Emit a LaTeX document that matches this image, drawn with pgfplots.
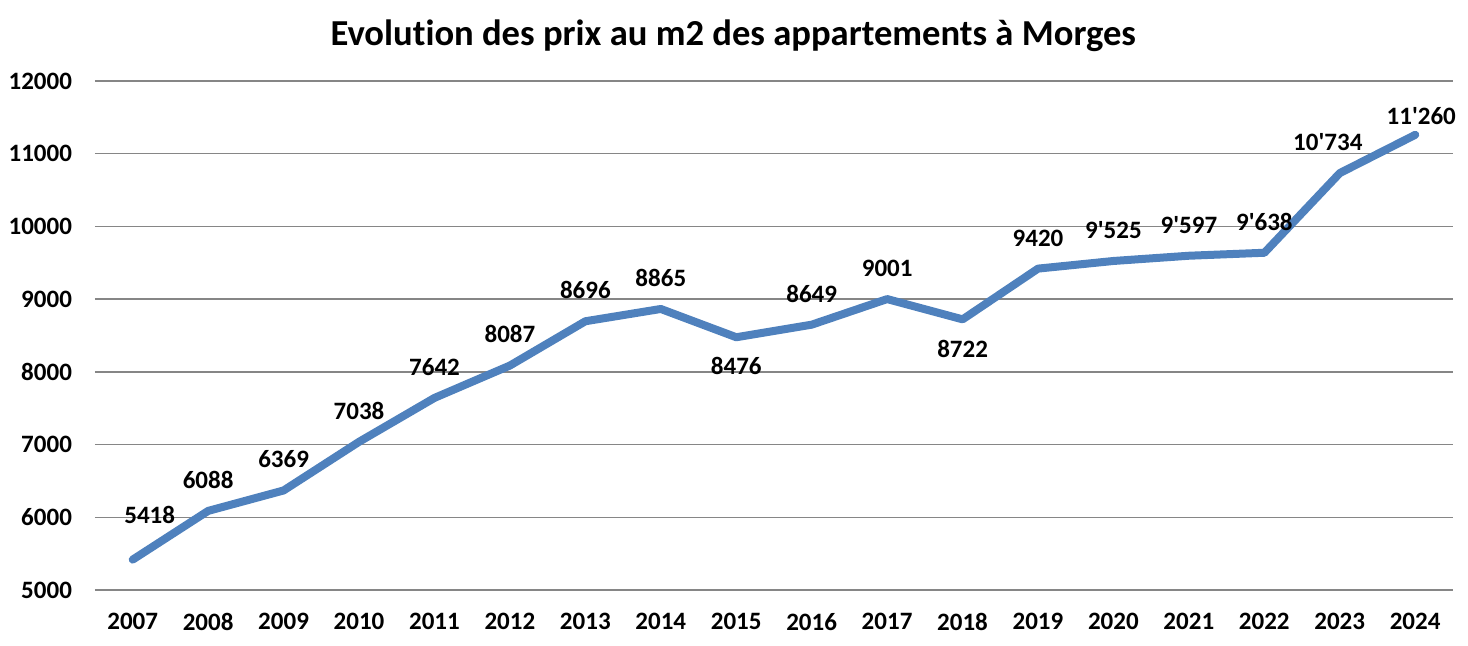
\documentclass[border=0pt]{standalone}
\usepackage{fontspec}
\setmainfont{Carlito}[Ligatures=NoCommon]
\usepackage{pgfplots}
\pgfplotsset{compat=1.18}

\definecolor{lineblue}{RGB}{79,129,189}
\definecolor{gridgray}{RGB}{134,134,134}

\newcommand{\q}{\textquotesingle}

\begin{document}
\begin{tikzpicture}[labelfont/.style={font=\fontsize{12.5}{14}\selectfont\bfseries}]
\begin{axis}[
    scale only axis,
    width=679pt, height=254.5pt,
    xmin=2006.5, xmax=2024.5,
    ymin=5000, ymax=12000,
    xtick={2007,...,2024},
    ytick={5000,6000,...,12000},
    scaled y ticks=false,
    /pgf/number format/1000 sep={},
    /pgf/number format/assume math mode=true,
    axis line style={draw=none},
    major tick length=0pt,
    ymajorgrids,
    grid style={gridgray, line width=0.75pt},
    ticklabel style={font=\fontsize{12.5}{14}\selectfont\bfseries},
    xticklabel style={yshift=-8pt},
    yticklabel style={xshift=-8pt},
    title={Evolution des prix au m2 des appartements à Morges},
    title style={at={(0.47,1)}, anchor=center, yshift=16.5pt,
                 font=\fontsize{18.3}{21}\selectfont\bfseries},
    clip=false,
]
% courbe principale
\addplot[lineblue, line width=4pt, line join=round, line cap=round] coordinates {
    (2007,5418) (2008,6088) (2009,6369) (2010,7038) (2011,7642) (2012,8087)
    (2013,8696) (2014,8865) (2015,8476) (2016,8649) (2017,9001) (2018,8722)
    (2019,9420) (2020,9525) (2021,9597) (2022,9638) (2023,10734) (2024,11260)
};
% étiquettes au-dessus
\addplot[draw=none, point meta=explicit symbolic,
    nodes near coords,
    nodes near coords style={anchor=south, inner sep=0pt, yshift=11pt, labelfont}]
coordinates {
    (2008,6088)[6088] (2009,6369)[6369] (2010,7038)[7038]
    (2011,7642)[7642] (2012,8087)[8087] (2013,8696)[8696] (2014,8865)[8865]
    (2016,8649)[8649] (2017,9001)[9001] (2019,9420)[9420] (2020,9525)[9\q 525]
    (2021,9597)[9\q 597] (2022,9638)[9\q 638]
};
\addplot[draw=none, point meta=explicit symbolic,
    nodes near coords,
    nodes near coords style={anchor=south, inner sep=0pt, yshift=11pt, xshift=-6pt, labelfont}]
coordinates {(2023,10734)[10\q 734]};
\addplot[draw=none, point meta=explicit symbolic,
    nodes near coords,
    nodes near coords style={anchor=south, inner sep=0pt, yshift=18pt, xshift=8.5pt, labelfont}]
coordinates {(2007,5418)[5418]};
\addplot[draw=none, point meta=explicit symbolic,
    nodes near coords,
    nodes near coords style={anchor=south, inner sep=0pt, yshift=5pt, xshift=3pt, labelfont}]
coordinates {(2024,11260)[11\q 260]};
% étiquettes en dessous
\addplot[draw=none, point meta=explicit symbolic,
    nodes near coords,
    nodes near coords style={anchor=north, inner sep=0pt, yshift=-10pt, labelfont}]
coordinates {
    (2015,8476)[8476] (2018,8722)[8722]
};
\end{axis}
\pgfresetboundingbox
\path[use as bounding box] (current axis.south west) ++(-47.5pt,-27.5pt)
    rectangle ++(734pt,322.5pt);
\end{tikzpicture}
\end{document}
